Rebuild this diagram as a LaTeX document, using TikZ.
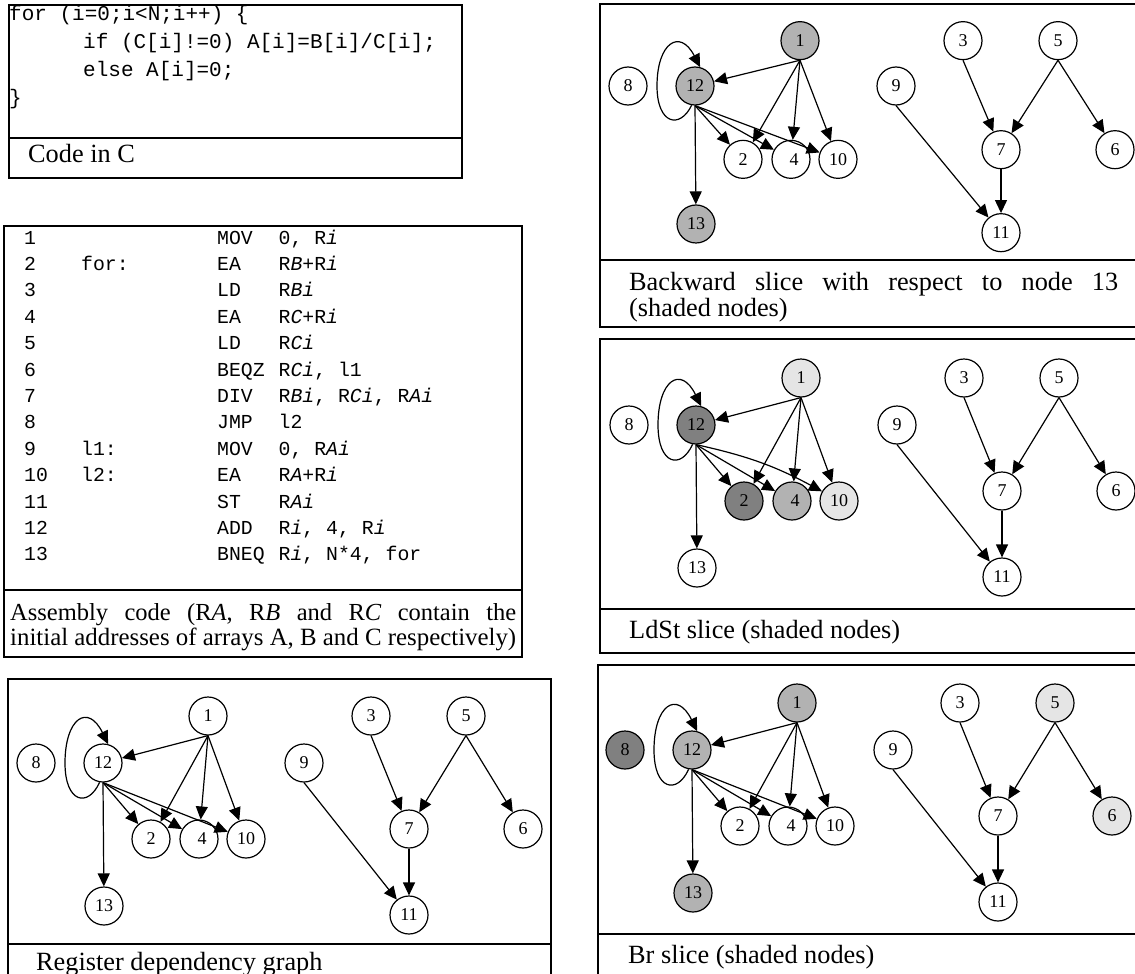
\documentclass[tikz,border=0pt]{standalone}
\usepackage{fontspec}
\usepackage{graphicx}
\setmainfont{Liberation Serif}
\setmonofont{Liberation Mono}
\usetikzlibrary{arrows.meta}
\newcommand{\resetsh}{\tikzset{s1/.style={},s2/.style={},s3/.style={},s4/.style={},s5/.style={},s6/.style={},s7/.style={},s8/.style={},s9/.style={},s10/.style={},s11/.style={},s12/.style={},s13/.style={},e1210/.style={}}}
\newcommand{\rdgraph}[4]{%
\begin{scope}[shift={(#2,#3)},yscale=#4]
\node[nd,s12] (#1n12) at (0,0) {12};
\node[nd,s1] (#1n1) at (105,-47) {1};
\node[nd,s8] (#1n8) at (-67,0) {8};
\node[nd,s2] (#1n2) at (48,76) {2};
\node[nd,s4] (#1n4) at (96,76) {\hspace*{6pt}4};
\node[nd,s10] (#1n10) at (143,76) {10};
\node[nd,s13] (#1n13) at (1,143) {13};
\node[nd,s3] (#1n3) at (268,-47) {3};
\node[nd,s5] (#1n5) at (363,-47) {5};
\node[nd,s9] (#1n9) at (201,0) {9};
\node[nd,s7] (#1n7) at (306,66) {7};
\node[nd,s6] (#1n6) at (420,66) {6};
\node[nd,s11] (#1n11) at (306,152) {11};
\draw[arr] (#1n1.south) -- (#1n12);
\draw[arr] (#1n1.south) -- (#1n2);
\draw[arr] (#1n1.south) -- (#1n4);
\draw[arr] (#1n1.south) -- (#1n10);
\draw[arr] (#1n12.south) -- (#1n2);
\draw[arr] (#1n12.south) -- (#1n4);
\draw[arr] (#1n12.south) to[e1210] (#1n10);
\draw[arr] (#1n12.south) -- (#1n13);
\draw[arr] (#1n12.-100) .. controls (-15,45) and (-38,40) .. (-38,0) .. controls (-38,-45) and (-15,-60) .. (#1n12.75);
\draw[arr] (#1n3.south) -- (#1n7);
\draw[arr] (#1n5.south) -- (#1n7);
\draw[arr] (#1n5.south) -- (#1n6);
\draw[arr] (#1n9.south) -- (#1n11);
\draw[arr] (#1n7.south) -- (#1n11);
\end{scope}}
\newcommand{\asmrow}[4]{%
\node[asmtxt] (an#1) at (24,#2) {#1};
\node[asmtxt] (am#1) at (217,#2) {#3};
\node[asmtxt] (ao#1) at (278.5,#2) {#4};}
\begin{document}
\begin{tikzpicture}[x=1pt,y=-1pt,
  box/.style={draw=black, line width=1.3pt},
  nd/.style={circle, draw=black, line width=1.2pt, minimum size=38pt, inner sep=0pt, fill=white, font=\fontsize{18}{18}\selectfont},
  arr/.style={line width=1.2pt, -{Triangle[length=13pt,width=12pt]}},
  captxt/.style={anchor=base west, inner sep=0pt, font=\fontsize{26.3}{30}\selectfont},
  codetxt/.style={anchor=base west, inner sep=0pt, font=\ttfamily\fontsize{21}{24}\selectfont},
  asmtxt/.style={anchor=base west, inner sep=0pt, font=\ttfamily\fontsize{19.8}{24}\selectfont}]
\resetsh
\useasboundingbox (0,0) rectangle (1135,974);
\fill[white] (0,0) rectangle (1135,974);
% ---------- Code in C
\draw[box] (9,5) rectangle (462,178);
\draw[box] (9,138) -- (462,138);
\node[codetxt] (c1) at (9,21) {for (i=0;i<N;i++) \{};
\node[codetxt] (c2) at (83,48.7) {if (C[i]!=0) A[i]=B[i]/C[i];};
\node[codetxt] (c3) at (83,76.4) {else A[i]=0;};
\node[codetxt] (c4) at (9,104) {\}};
\node[captxt] (capc) at (28,162) {Code in C};
% ---------- Assembly
\draw[box] (4,226) rectangle (522,657);
\draw[box] (4,590) -- (522,590);
\asmrow{1}{244}{MOV}{0, R\textit{i}}
\asmrow{2}{270.4}{EA}{R\textit{B}+R\textit{i}}
\asmrow{3}{296.8}{LD}{R\textit{Bi}}
\asmrow{4}{323.2}{EA}{R\textit{C}+R\textit{i}}
\asmrow{5}{349.6}{LD}{R\textit{Ci}}
\asmrow{6}{376}{BEQZ}{R\textit{Ci}, l1}
\asmrow{7}{402.4}{DIV}{R\textit{Bi}, R\textit{Ci}, R\textit{Ai}}
\asmrow{8}{428.8}{JMP}{l2}
\asmrow{9}{455.2}{MOV}{0, R\textit{Ai}}
\asmrow{10}{481.6}{EA}{R\textit{A}+R\textit{i}}
\asmrow{11}{508}{ST}{R\textit{Ai}}
\asmrow{12}{534.4}{ADD}{R\textit{i}, 4, R\textit{i}}
\asmrow{13}{560.8}{BNEQ}{R\textit{i}, N*4, for}
\node[asmtxt] (al2) at (81,270.4) {for:};
\node[asmtxt] (al9) at (81,455.2) {l1:};
\node[asmtxt] (al10) at (81,481.6) {l2:};
\node[captxt,font=\fontsize{24.5}{28}\selectfont] (capa1) at (10,620) {\makebox[506pt][s]{Assembly code (R\textit{A}, R\textit{B} and R\textit{C} contain the}};
\node[captxt,font=\fontsize{24.5}{28}\selectfont] (capa2) at (10,645) {\resizebox{506pt}{!}{initial addresses of arrays A, B and C respectively)}};
% ---------- Register dependency graph
\draw[box] (8,679) rectangle (551,995);
\draw[box] (8,944) -- (551,944);
\rdgraph{r}{103}{763}{1}
\node[captxt] (capr) at (36,970) {Register dependency graph};
% ---------- Backward slice
\draw[box] (600,4) rectangle (1150,327);
\draw[box] (600,260) -- (1150,260);
\resetsh
\tikzset{s1/.style={fill=black!30},s12/.style={fill=black!30},s13/.style={fill=black!30}}
\rdgraph{b}{695}{86}{0.965}
\node[captxt] (capb1) at (629,290) {\makebox[489pt][s]{Backward slice with respect to node 13}};
\node[captxt] (capb2) at (629,316) {(shaded nodes)};
% ---------- LdSt slice
\draw[box] (600,339) rectangle (1150,653);
\draw[box] (600,609) -- (1150,609);
\resetsh
\tikzset{s1/.style={fill=black!10},s12/.style={fill=black!50},s2/.style={fill=black!50},s4/.style={fill=black!30},s10/.style={fill=black!10},e1210/.style={bend left=8}}
\rdgraph{l}{696}{425}{1}
\node[captxt] (capl) at (629,638) {LdSt slice (shaded nodes)};
% ---------- Br slice
\draw[box] (598,665) rectangle (1150,995);
\draw[box] (598,934) -- (1150,934);
\resetsh
\tikzset{s1/.style={fill=black!30},s12/.style={fill=black!30},s13/.style={fill=black!30},s8/.style={fill=black!50},s5/.style={fill=black!10},s6/.style={fill=black!10}}
\rdgraph{s}{692}{750}{1}
\node[captxt] (caps) at (628,963) {Br slice (shaded nodes)};
\end{tikzpicture}
\end{document}
